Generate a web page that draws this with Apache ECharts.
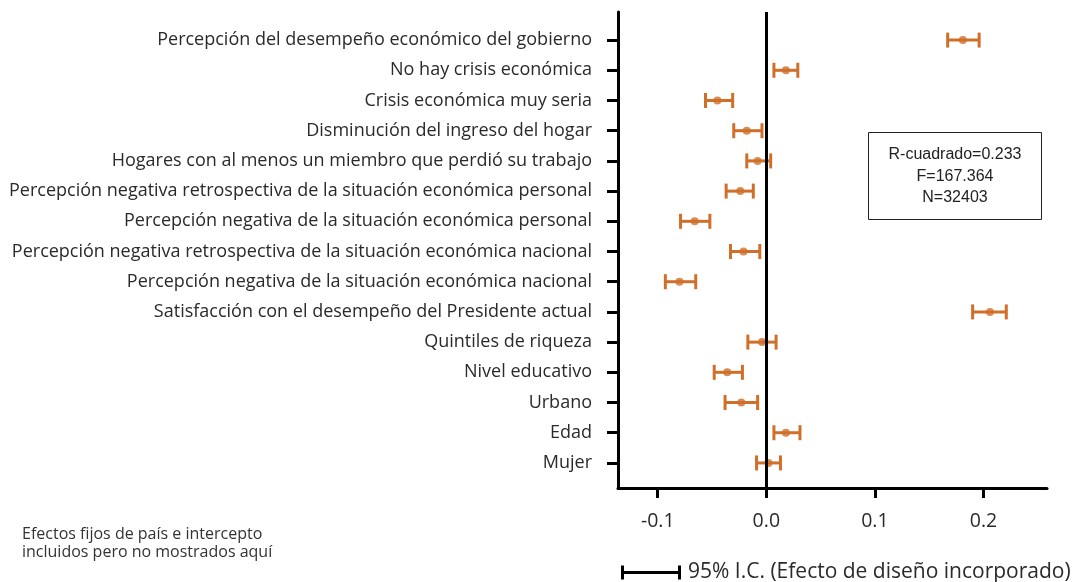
<!DOCTYPE html>
<html><head><meta charset="utf-8">
<script src="https://cdn.jsdelivr.net/npm/echarts@6/dist/echarts.min.js"></script>
<style>html,body{margin:0;padding:0;background:#fff}#c{width:1075px;height:582px}</style>
</head><body><div id="c"></div>
<script>
const categories = [
  'Percepción del desempeño económico del gobierno',
  'No hay crisis económica',
  'Crisis económica muy seria',
  'Disminución del ingreso del hogar',
  'Hogares con al menos un miembro que perdió su trabajo',
  'Percepción negativa retrospectiva de la situación económica personal',
  'Percepción negativa de la situación económica personal',
  'Percepción negativa retrospectiva de la situación económica nacional',
  'Percepción negativa de la situación económica nacional',
  'Satisfacción con el desempeño del Presidente actual',
  'Quintiles de riqueza',
  'Nivel educativo',
  'Urbano',
  'Edad',
  'Mujer'
];
const estimates = [0.181, 0.018, -0.045, -0.018, -0.008, -0.024, -0.066, -0.021, -0.080, 0.206, -0.004, -0.036, -0.023, 0.018, 0.002];
const lowerCI   = [0.167, 0.007, -0.056, -0.030, -0.018, -0.037, -0.079, -0.033, -0.093, 0.190, -0.017, -0.048, -0.038, 0.007, -0.009];
const upperCI   = [0.196, 0.029, -0.031, -0.004, 0.004, -0.012, -0.052, -0.006, -0.065, 0.221, 0.009, -0.022, -0.008, 0.031, 0.013];
const xTicks = [-0.1, 0.0, 0.1, 0.2];
const statsText = ['R-cuadrado=0.233', 'F=167.364', 'N=32403'];
const footnote = 'Efectos fijos de país e intercepto\nincluidos pero no mostrados aquí';
const legendName = '95% I.C. (Efecto de diseño incorporado)';

const orange = '#cf6f29';
const font = '"Open Sans", "Liberation Sans", sans-serif';
const boxFont = '"Liberation Sans", Arial, sans-serif';
const yIdx = categories.map((_, i) => i);

const chart = echarts.init(document.getElementById('c'), null, {renderer: 'canvas'});
chart.setOption({
  animation: false,
  backgroundColor: '#fff',
  grid: {left: 618, right: 28, top: 12, bottom: 94, containLabel: false},
  xAxis: {
    type: 'value', min: -0.1366, max: 0.2585,
    axisLine: {show: true, onZero: false, lineStyle: {color: '#000', width: 3}},
    axisTick: {show: true, length: 10, lineStyle: {color: '#000', width: 3}, customValues: xTicks},
    axisLabel: {customValues: xTicks, formatter: v => v.toFixed(1), fontSize: 19.5, color: '#2a2a2a', fontFamily: font, margin: 23},
    splitLine: {show: false}
  },
  yAxis: {
    type: 'value', inverse: true, min: -0.93, max: 14.83,
    axisLine: {show: true, onZero: false, lineStyle: {color: '#000', width: 3}},
    axisTick: {show: true, length: 11, lineStyle: {color: '#000', width: 3}, customValues: yIdx},
    axisLabel: {customValues: yIdx, formatter: v => categories[Math.round(v)] || '', fontSize: 18, color: '#2a2a2a', fontFamily: font, margin: 26},
    splitLine: {show: false}
  },
  legend: {
    left: 621, top: 562, padding: 0, itemWidth: 64, itemHeight: 14, itemGap: 8,
    textStyle: {fontSize: 21, color: '#2a2a2a', fontFamily: font},
    data: [{name: legendName, icon: 'path://M0,0 H3 V5.5 H57 V0 H60 V14 H57 V8.5 H3 V14 H0 Z', itemStyle: {color: '#000'}}]
  },
  title: {
    text: footnote, left: 22, top: 525, padding: 0,
    textStyle: {fontSize: 16, fontWeight: 'normal', color: '#333', fontFamily: font, lineHeight: 18.5}
  },
  graphic: [{
    type: 'group', left: 868, top: 132,
    children: [
      {type: 'rect', shape: {x: 0, y: 0, width: 173, height: 87}, style: {fill: '#fff', stroke: '#222', lineWidth: 1}},
      {type: 'text', x: 86.5, y: 44, style: {text: statsText.join('\n'), fill: '#222', font: '16px ' + boxFont, align: 'center', verticalAlign: 'middle', lineHeight: 21.5}}
    ]
  }],
  series: [
    {
      name: legendName, type: 'custom',
      data: categories.map((_, i) => [lowerCI[i], upperCI[i], i]),
      encode: {x: [0, 1], y: 2},
      renderItem: (params, api) => {
        const lo = api.coord([api.value(0), api.value(2)]);
        const hi = api.coord([api.value(1), api.value(2)]);
        const h = 7.5;
        const st = {stroke: orange, lineWidth: 3};
        return {type: 'group', children: [
          {type: 'line', shape: {x1: lo[0], y1: lo[1], x2: hi[0], y2: hi[1]}, style: st},
          {type: 'line', shape: {x1: lo[0], y1: lo[1] - h, x2: lo[0], y2: lo[1] + h}, style: st},
          {type: 'line', shape: {x1: hi[0], y1: hi[1] - h, x2: hi[0], y2: hi[1] + h}, style: st}
        ]};
      },
      z: 3
    },
    {
      name: 'Estimado', type: 'scatter', symbol: 'circle', symbolSize: 8,
      itemStyle: {color: orange},
      data: categories.map((_, i) => [estimates[i], i]), z: 4,
      markLine: {
        silent: true, symbol: 'none', label: {show: false},
        lineStyle: {color: '#000', width: 3, type: 'solid'},
        data: [{xAxis: 0}]
      }
    }
  ]
});
</script></body></html>
